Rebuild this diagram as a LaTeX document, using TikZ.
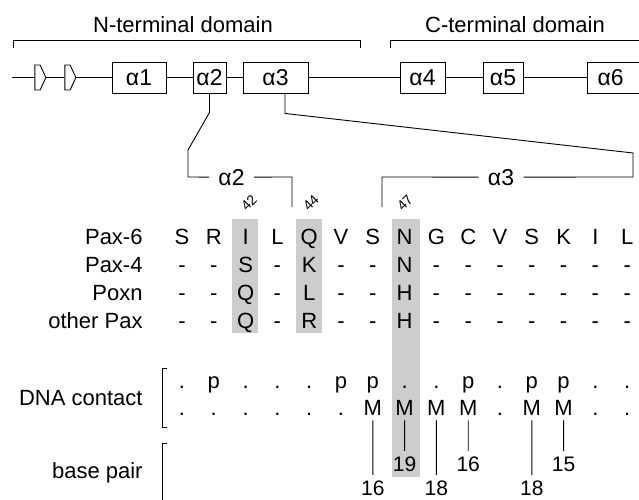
\documentclass[tikz,border=0pt]{standalone}
\usepackage{fontspec}
\setmainfont{Liberation Sans}
\usetikzlibrary{shapes.symbols}
\definecolor{shadegray}{RGB}{205,205,205}

\begin{document}
\begin{tikzpicture}[x=1pt, y=-1pt, line width=0.9pt,
    helix/.style={draw, minimum height=31, inner sep=0pt, font=\fontsize{23}{24}\selectfont},
    strand/.style={draw, signal, signal to=east, signal pointer angle=130, minimum width=11, minimum height=25, inner sep=0pt},
    res/.style={inner sep=0pt, anchor=base, font=\fontsize{22}{24}\selectfont},
    rowlab/.style={inner sep=0pt, anchor=base east, font=\fontsize{22}{24}\selectfont},
    posn/.style={inner sep=0pt, rotate=45, font=\fontsize{14}{15}\selectfont},
    bplab/.style={inner sep=0pt, anchor=base, font=\fontsize{21}{22}\selectfont},
    hlab/.style={inner ysep=0pt, inner xsep=9pt, anchor=base, font=\fontsize{23}{24}\selectfont}]
    \useasboundingbox (0,0) rectangle (639,499);

    % shaded residues 42, 44 and 47
    \fill[shadegray] (232,219) rectangle (258,333);
    \fill[shadegray] (296,219) rectangle (322,333);
    \fill[shadegray] (392,219) rectangle (420,477);

    % domains
    \node[res] (nterm) at (183,32) {N-terminal domain};
    \node[res] (cterm) at (515,32) {C-terminal domain};
    \draw (13,48) |- (360,40) -- (360,48);
    \draw (390,48) |- (650,40);

    % paired domain
    \coordinate (bb0) at (12,77.5);
    \node[strand] (st1) at (37.5,77.5) {};
    \node[strand] (st2) at (67.5,77.5) {};
    \node[helix, minimum width=54] (a1) at (139,77.5) {α1};
    \node[helix, minimum width=33] (a2) at (209.5,77.5) {α2};
    \node[helix, minimum width=65] (a3) at (275.5,77.5) {α3};
    \node[helix, minimum width=45] (a4) at (422.5,77.5) {α4};
    \node[helix, minimum width=40] (a5) at (503,77.5) {α5};
    \node[helix, minimum width=73, text width=52] (a6) at (623.5,77.5) {α6};
    \draw (bb0) -- (st1) -- (st2) -- (a1) -- (a2) -- (a3) -- (a4) -- (a5) -- (a6);

    % zoom on helices 2 and 3
    \node[hlab] (z2lab) at (231.5,185) {α2};
    \node[hlab] (z3lab) at (501,185) {α3};
    \draw (a2.south) -- ++(0,19) -- (188,150) -- (188,177) -- (z2lab.west);
    \draw (z2lab.east) -- (292,177) -- (292,207);
    \draw ([xshift=9.5]a3.south) -- ++(0,20) -- (633,153) -- (633,177) -- (z3lab.east);
    \draw (z3lab.west) -- (382,177) -- (382,207);

    \node[posn] (n42) at (249,203) {42};
    \node[posn] (n44) at (311,203) {44};
    \node[posn] (n47) at (405,203) {47};

    % alignment
    \node[rowlab] (lpax6) at (143,244) {Pax-6};
    \node[rowlab] (lpax4) at (143,272) {Pax-4};
    \node[rowlab] (lpoxn) at (143,300) {Poxn};
    \node[rowlab] (lother) at (143,328) {other Pax};
    \foreach \c [count=\i from 0] in {S,R,I,L,Q,V,S,N,G,C,V,S,K,I,L}
        \node[res] (p6-\i) at (182+31.8*\i,244) {\c};
    \foreach \c [count=\i from 0] in {-,-,S,-,K,-,-,N,-,-,-,-,-,-,-}
        \node[res] (p4-\i) at (182+31.8*\i,272) {\c};
    \foreach \c [count=\i from 0] in {-,-,Q,-,L,-,-,H,-,-,-,-,-,-,-}
        \node[res] (px-\i) at (182+31.8*\i,300) {\c};
    \foreach \c [count=\i from 0] in {-,-,Q,-,R,-,-,H,-,-,-,-,-,-,-}
        \node[res] (op-\i) at (182+31.8*\i,328) {\c};

    % DNA contacts
    \node[rowlab] (ldna) at (143,405) {DNA contact};
    \node[rowlab] (lbp) at (143,478) {base pair};
    \draw (167,368) -| (162,427) -- (167,427);
    \draw (167,443) -| (162,505);
    \foreach \c [count=\i from 0] in {.,p,.,.,.,p,p,.,.,p,.,p,p,.,.}
        \node[res] (dt-\i) at (182+31.8*\i,388) {\c};
    \foreach \c [count=\i from 0] in {.,.,.,.,.,.,M,M,M,M,.,M,M,.,.}
        \node[res] (db-\i) at (182+31.8*\i,415) {\c};

    \node[bplab] (bp6) at (372.8,495) {16};
    \node[bplab] (bp7) at (404.6,471) {19};
    \node[bplab] (bp8) at (436.4,495) {18};
    \node[bplab] (bp9) at (468.2,471) {16};
    \node[bplab] (bp11) at (531.8,495) {18};
    \node[bplab] (bp12) at (563.6,471) {15};
    \foreach \i in {6,7,8,9,11,12}
        \draw[shorten <=5pt, shorten >=5pt] (db-\i) -- (bp\i);
\end{tikzpicture}
\end{document}
